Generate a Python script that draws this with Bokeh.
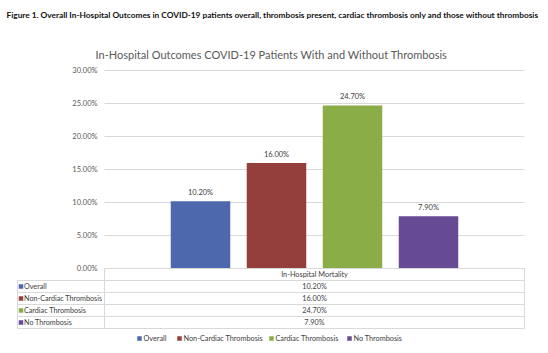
from bokeh.plotting import figure
from bokeh.models import Range1d
from bokeh.core.properties import value
from bokeh.embed import file_html
from bokeh.resources import INLINE

# ---------------- data ----------------
categories = ["Overall", "Non-Cardiac Thrombosis", "Cardiac Thrombosis", "No Thrombosis"]
mortality = [10.2, 16.0, 24.7, 7.9]
metric = "In-Hospital Mortality"
y_ticks = [0, 5, 10, 15, 20, 25, 30]
y_tick_labels = [f"{t:.2f}%" for t in y_ticks]
colors = ["#4E68AE", "#943F3C", "#8BAD47", "#674A94"]
legend_labels = ["Overall", "Non-Cardiac Thrombosis", "Cardiac Thrombosis", "No Thrombosis"]
caption = ("Figure 1. Overall In-Hospital Outcomes in COVID-19 patients overall, thrombosis present, "
           "cardiac thrombosis only and those without thrombosis")
chart_title = "In-Hospital Outcomes COVID-19 Patients With and Without Thrombosis"

# ---------------- layout (pixels) ----------------
W, H = 548, 353
L, R, T, B = 104, 524, 70, 268        # plot area
SLOT = 76                              # px per bar slot
BAR_W = 59.5 / SLOT
FONT = value("Lato")
GREY = "#595959"
LINE = "#d9d9d9"

p = figure(width=W, height=H, x_range=Range1d(0, W), y_range=Range1d(H, 0),
           output_backend="svg", toolbar_location=None,
           x_axis_type=None, y_axis_type=None, min_border=0)
p.outline_line_color = None
p.background_fill_color = "white"
p.border_fill_color = "white"

ymax = y_ticks[-1]
per_px = ymax / (B - T)
p.extra_y_ranges = {"pct": Range1d(-(H - B) * per_px, ymax + T * per_px)}
center = (L + R) / 2
p.extra_x_ranges = {"bars": Range1d(-center / SLOT, (W - center) / SLOT)}

n = len(categories)
bar_x = [i - (n - 1) / 2 for i in range(n)]

# gridlines
grid_ticks = [t for t in y_ticks if t > 0]
p.segment(x0=[L] * len(grid_ticks), x1=[R] * len(grid_ticks), y0=grid_ticks, y1=grid_ticks,
          y_range_name="pct", line_color=LINE, line_width=1)

# tick labels
p.text(x=[97] * len(y_ticks), y=y_ticks, text=y_tick_labels, y_range_name="pct",
       text_align="right", text_baseline="middle", text_font=FONT,
       text_font_size="7.5px", text_color=GREY)

# bars
p.vbar(x=bar_x, top=mortality, bottom=0, width=BAR_W, color=colors,
       x_range_name="bars", y_range_name="pct", line_color=None)

# bar labels
p.text(x=bar_x, y=mortality, text=[f"{v:.2f}%" for v in mortality],
       x_range_name="bars", y_range_name="pct", y_offset=-4,
       text_align="center", text_baseline="bottom", text_font=FONT,
       text_font_size="7.5px", text_color="#404040")

# ---------------- data table ----------------
TL = 17
hdr_top, row_h = B, 12
rows_top = hdr_top + row_h
rows_bottom = rows_top + n * row_h
p.segment(x0=[L], x1=[R], y0=[hdr_top], y1=[hdr_top], line_color=LINE)
hl = [rows_top + i * row_h for i in range(n + 1)]
p.segment(x0=[TL] * len(hl), x1=[R] * len(hl), y0=hl, y1=hl, line_color=LINE)
p.segment(x0=[L, R, TL], x1=[L, R, TL], y0=[hdr_top, hdr_top, rows_top],
          y1=[rows_bottom] * 3, line_color=LINE)
p.text(x=[center], y=[hdr_top + row_h / 2], text=[metric], text_align="center",
       text_baseline="middle", text_font=FONT, text_font_size="7.3px", text_color="#404040")
row_y = [rows_top + row_h * (i + 0.5) for i in range(n)]
p.scatter(x=[TL + 3.5] * n, y=row_y, marker="square", size=4.5, color=colors, line_color=None)
p.text(x=[TL + 6.5] * n, y=row_y, text=categories, text_align="left", text_baseline="middle",
       text_font=FONT, text_font_size="7.2px", text_color="#404040")
p.text(x=[center] * n, y=row_y, text=[f"{v:.2f}%" for v in mortality], text_align="center",
       text_baseline="middle", text_font=FONT, text_font_size="7.3px", text_color="#404040")

# ---------------- legend ----------------
leg_y = 338
leg_x = [139, 179, 271, 349]
p.scatter(x=leg_x, y=[leg_y] * n, marker="square", size=4.5, color=colors, line_color=None)
p.text(x=[x + 4 for x in leg_x], y=[leg_y] * n, text=legend_labels, text_align="left",
       text_baseline="middle", text_font=FONT, text_font_size="7.3px", text_color="#404040")

# ---------------- titles ----------------
p.text(x=[6], y=[14], text=[caption], text_align="left", text_baseline="middle",
       text_font=FONT, text_font_style="bold", text_font_size="8.3px", text_color="#111111")
p.text(x=[271], y=[54], text=[chart_title], text_align="center", text_baseline="middle",
       text_font=FONT, text_font_size="11px", text_color=GREY)

open("out.html", "w").write(file_html(p, INLINE))
